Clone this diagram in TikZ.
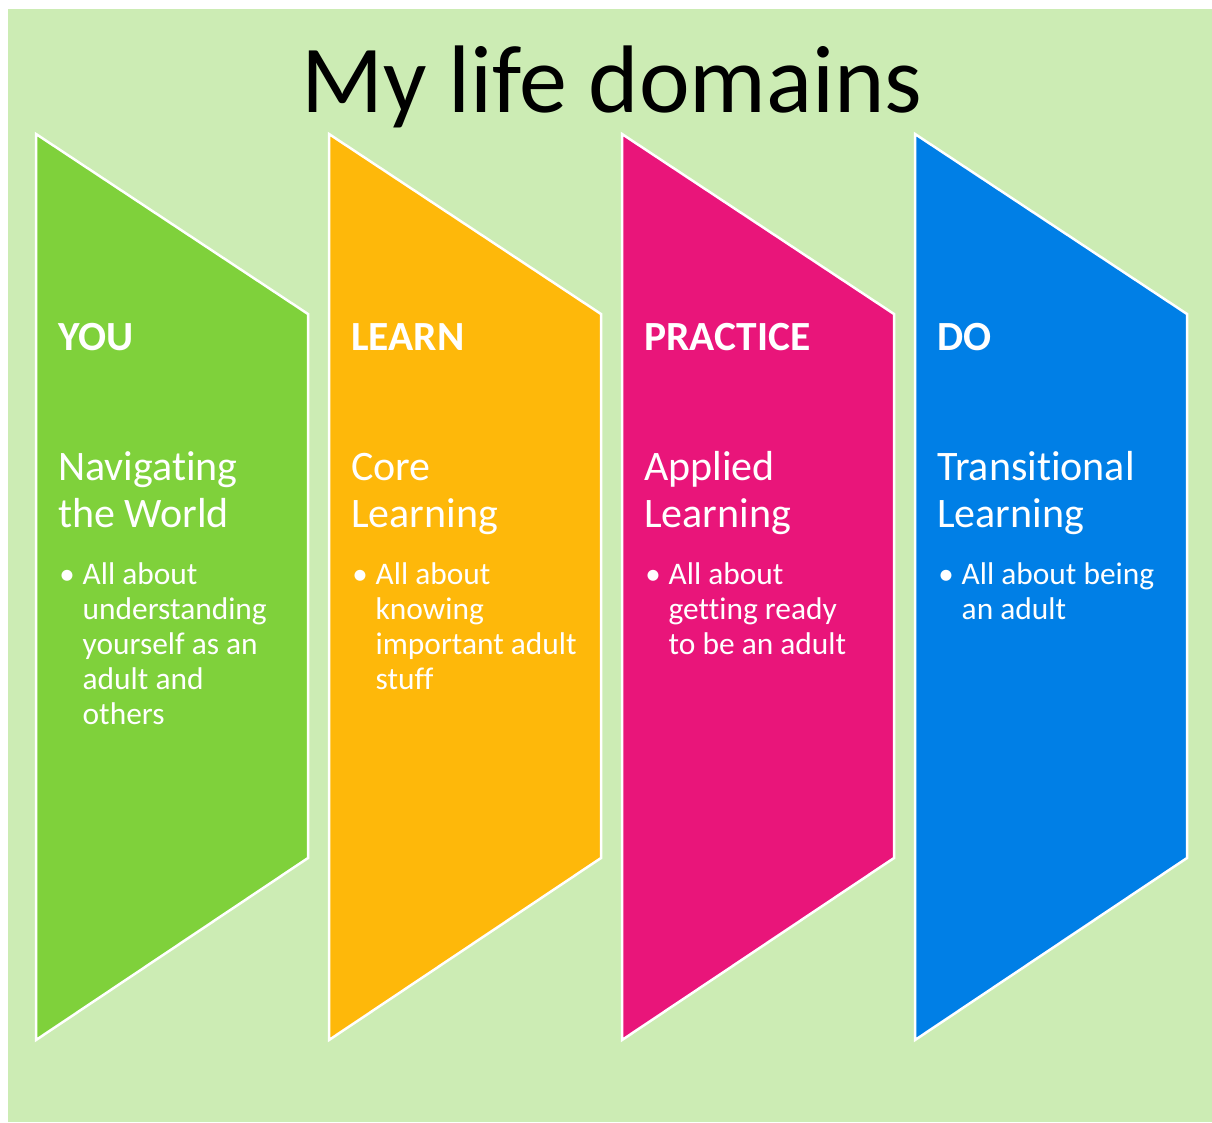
\documentclass[tikz,border=0pt]{standalone}
\usepackage{fontspec}
\setmainfont{Carlito}[RawFeature={-liga;-dlig;-clig}]
\definecolor{bgc}{RGB}{204,236,180}
\definecolor{cgreen}{RGB}{127,209,59}
\definecolor{corange}{RGB}{254,184,10}
\definecolor{cpink}{RGB}{233,21,122}
\definecolor{cblue}{RGB}{0,127,230}
\tikzset{
  domainshape/.style={draw=white, line width=2.5pt, line join=miter},
  titlestyle/.style={anchor=base, inner sep=0pt, font=\fontsize{96}{110}\selectfont, text=black},
  headstyle/.style={anchor=base west, inner sep=0pt, font=\fontsize{41.5}{48}\selectfont\bfseries, text=white},
  substyle/.style={anchor=base west, inner sep=0pt, font=\fontsize{42}{48}\selectfont, text=white},
  dotstyle/.style={anchor=base, inner sep=0pt, font=\fontsize{31}{35}\selectfont, text=white},
  bodystyle/.style={anchor=base west, inner sep=0pt, font=\fontsize{31.4}{35}\selectfont, text=white}
}
\newcommand\lifedomain[6]{%
  \fill[#3, domainshape] (#2,134) -- ++(272,180) -- ++(0,544) -- ++(-272,182) -- cycle;
  \node[headstyle] (#1-head) at (#2+22,350) {#4};
  \node[substyle] (#1-sub) at (#2+22,480) {\vtop{\baselineskip=47pt #5}};
  \node[dotstyle] (#1-dot) at (#2+31,584) {•};
  \node[bodystyle] (#1-body) at (#2+46.5,584) {\vtop{\baselineskip=35pt #6}};
}
\begin{document}
\begin{tikzpicture}[x=1pt,y=-1pt]
\useasboundingbox (0,0) rectangle (1212,1122);
\fill[white] (0,0) rectangle (1212,1122);
\fill[bgc] (8,9) rectangle (1212,1122);
\node[titlestyle] (title) at (612,112) {My life domains};
\lifedomain{you}{36}{cgreen}{YOU}{\hbox{Navigating}\hbox{the World}}{\hbox{All about}\hbox{understanding}\hbox{yourself as an}\hbox{adult and}\hbox{others}}
\lifedomain{learn}{329}{corange}{LEARN}{\hbox{Core}\hbox{Learning}}{\hbox{All about}\hbox{knowing}\hbox{important adult}\hbox{stuff}}
\lifedomain{practice}{622}{cpink}{PRACTICE}{\hbox{Applied}\hbox{Learning}}{\hbox{All about}\hbox{getting ready}\hbox{to be an adult}}
\lifedomain{do}{915}{cblue}{DO}{\hbox{Transitional}\hbox{Learning}}{\hbox{All about being}\hbox{an adult}}
\end{tikzpicture}
\end{document}
